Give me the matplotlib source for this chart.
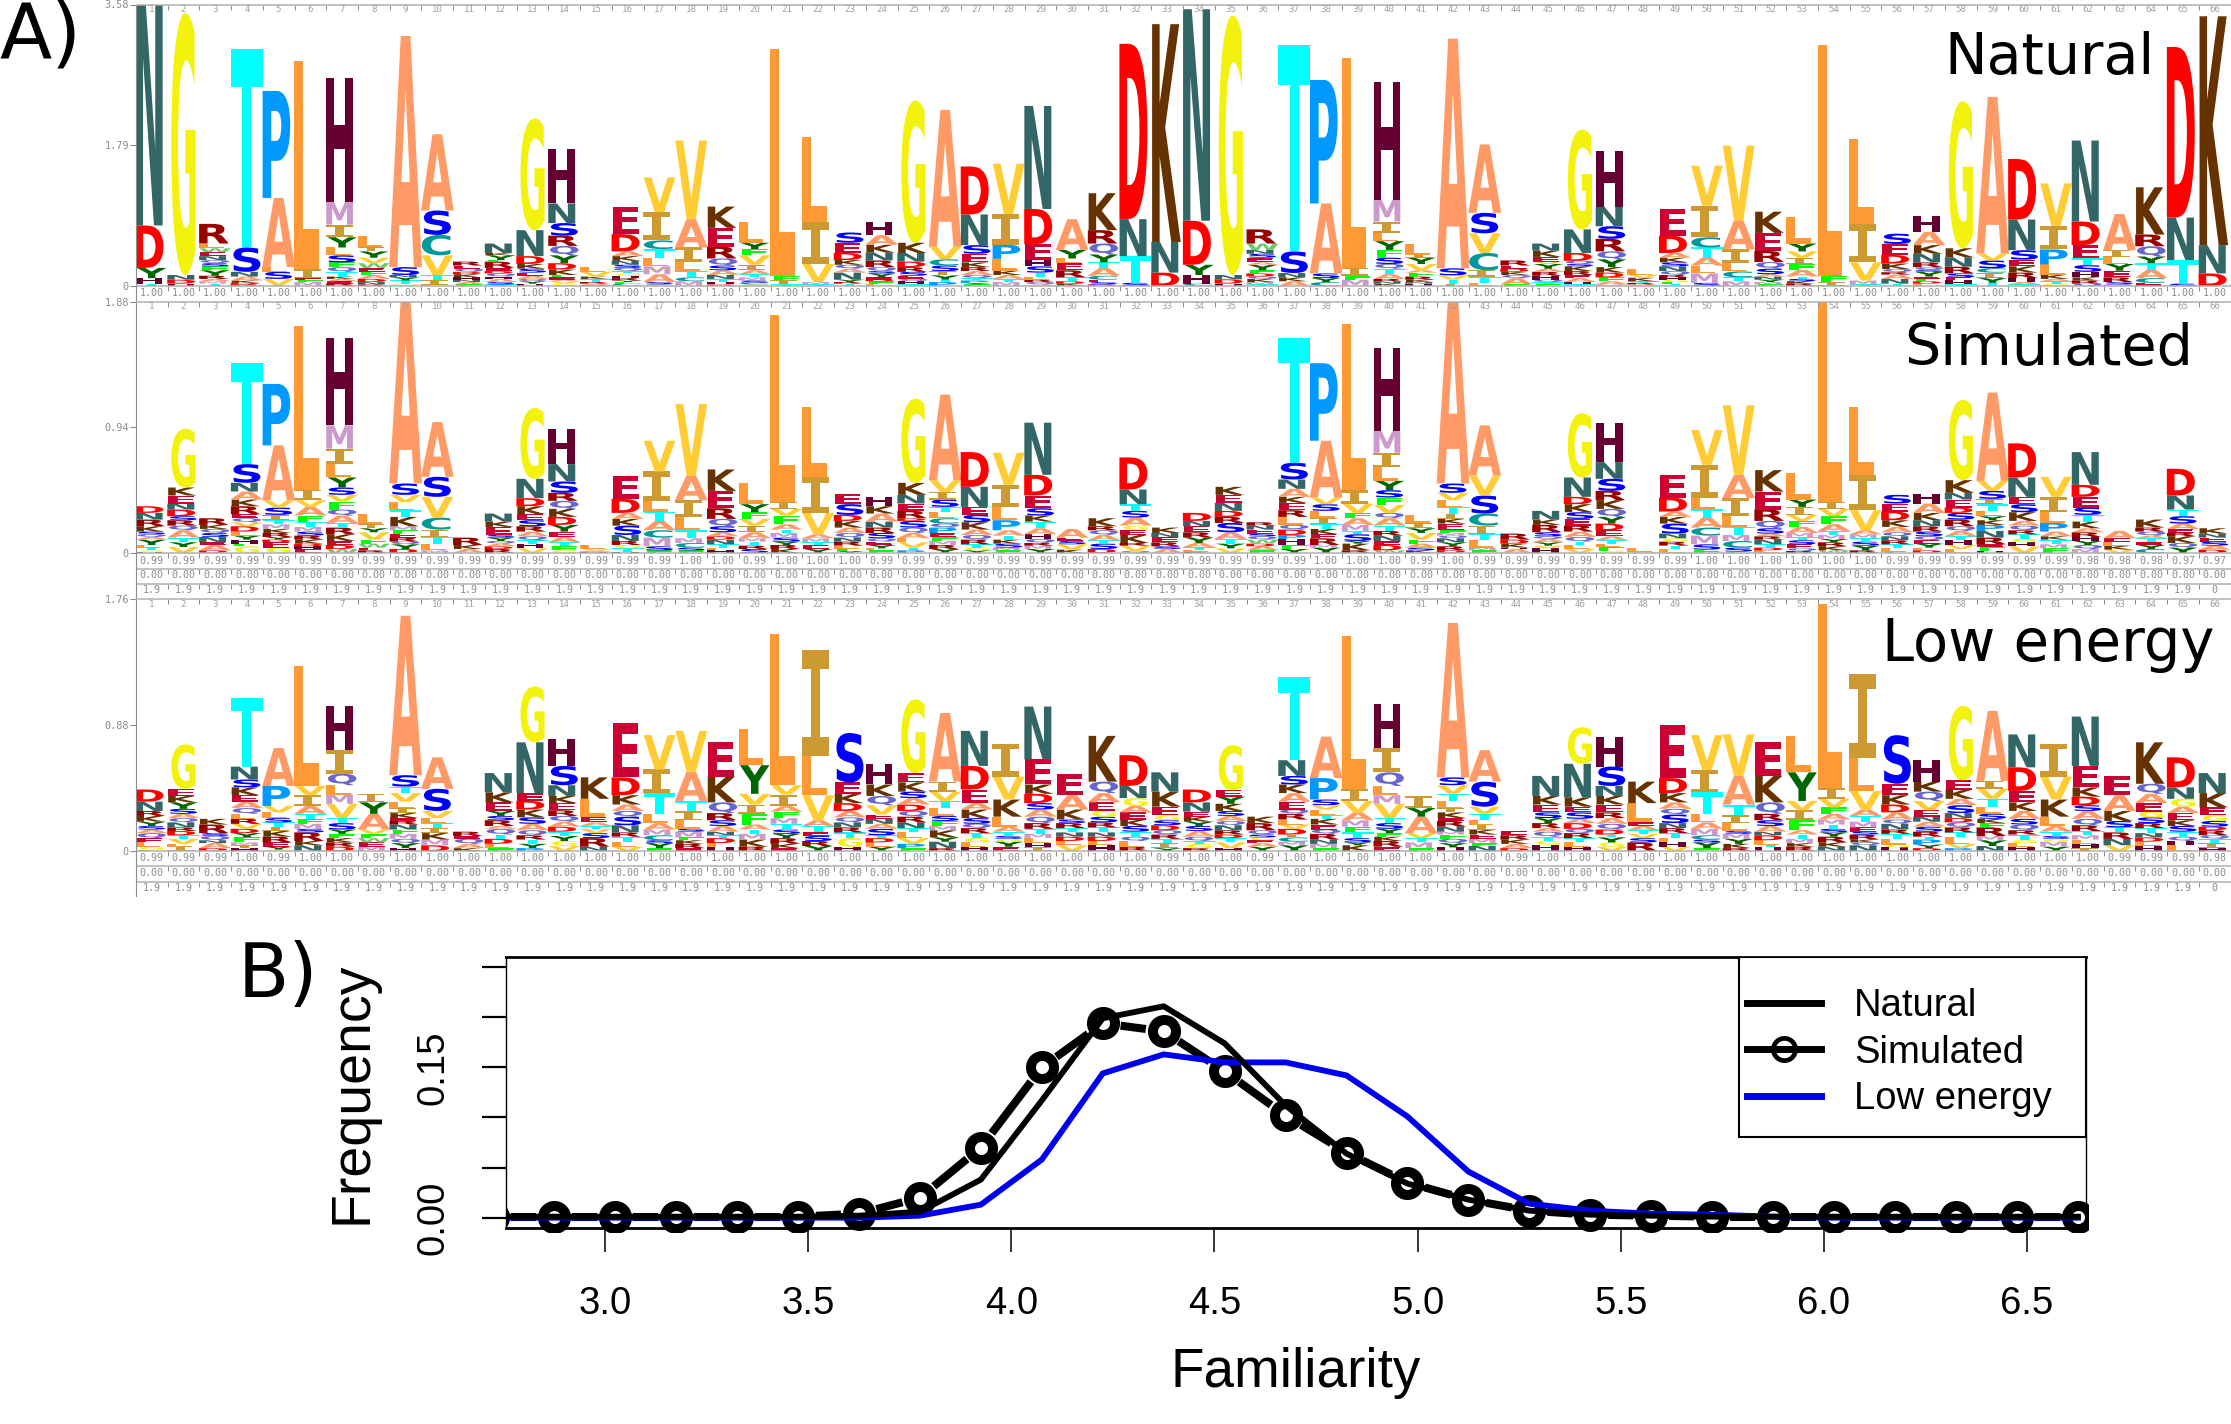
import numpy as np
import matplotlib
matplotlib.use("Agg")
import matplotlib.pyplot as plt
from matplotlib.collections import LineCollection
from matplotlib.font_manager import FontProperties
from matplotlib.lines import Line2D
from matplotlib.patches import PathPatch, Rectangle
from matplotlib.textpath import TextPath
from matplotlib.transforms import Affine2D, Bbox

# each string is one logo column, letters listed top to bottom with height in bits
natural_cols = [
    "N3.1 D.54 Y.13 H.07 T.03", "G3.33 N.06 D.05 H.03", "R.25 L.06 W.05 E.05 N.05 Q.04 S.04 F.05 Y.07 R.04 A.03 M.03 T.03",
    "T2.53 S.31 N.06 A.05 K.03 D.02 R.02", "P1.36 A.88 L.06 S.09 V.08 T.01", "L2.65 I.11 E.03 F.02 M.05",
    "H1.58 M.29 I.16 Y.13 L.1 S.09 F.06 Q.06 T.06 K.03 A.03 E.03 R.03", "L.14 I.05 Y.08 V.07 W.06 E.05 F.04 A.05 D.04 N.03 R.02",
    "A2.94 S.1 N.03 Y.04 T.05 V.02", "A.97 S.31 C.26 V.25 T.06 I.07 L.01", "R.05 E.04 Q.04 D.03 K.04 H.03 N.03 A.03 F.02",
    "N.12 K.03 Y.06 F.02 R.08 E.04 D.03 Q.04 H.03 A.04 S.03 T.02", "G1.42 N.33 D.1 K.06 S.05 E.04 A.04 Q.03 Y.03 H.03",
    "H.69 N.25 S.16 R.13 Q.12 Y.1 D.08 K.07 F.03 E.03 A.02 V.03 G.03", "L.06 V.06 K.03 T.04 R.02 A.02 D.01",
    "E.35 D.22 A.06 K.06 N.05 S.04 Q.04 T.03 G.03 H.03 R.03 Y.02 F.02 C.02 M.01", "V.44 I.36 C.11 T.11 L.11 M.1 A.1 S.03 G.02",
    "V1.0 A.36 I.18 L.12 T.08 C.05 M.06", "K.27 E.24 R.15 Q.09 S.06 A.06 N.05 T.04 H.03 D.02", "L.27 Y.08 F.08 V.12 I.07 A.05 T.04 M.04 S.03 C.02 G.02",
    "L2.89 F.055 I.05 T.02", "L1.09 I.53 V.23 M.03 T.02", "S.13 E.13 D.09 K.06 Q.05 A.05 N.09 Y.03 R.02 T.03",
    "H.17 A.12 K.1 N.1 R.085 Q.05 S.03 Y.05 E.03 D.02 F.03 L.03", "G1.81 K.13 N.11 D.07 R.06 S.05 E.04 Q.03 H.04 T.02",
    "A1.74 V.16 C.08 S.07 I.055 Y.055 T.03 P.05", "D.61 N.39 S.11 E.11 K.06 R.05 A.05 Q.04 T.03 P.03 Y.02 F.02",
    "V.64 I.39 P.18 L.15 K.055 A.05 T.04 M.05", "N1.31 D.45 E.2 H.08 S.08 T.05 L.04 R.03 Q.03 A.02",
    "A.39 Y.11 L.06 E.09 R.09 T.05 D.03 K.03", "K.47 R.17 Q.14 Y.1 T.07 A.1 C.05 E.03 S.03 D.02", "D2.23 N.47 T.34 S.04",
    "K2.77 N.39 D.17", "N2.69 D.56 Y.13 H.11 C.03", "G3.3 N.055 D.055 H.03",
    "R.18 W.08 N.05 S.05 E.06 A.03 Y.07 F.04 D.04 Q.03 K.04 M.03 T.02", "T2.63 S.275 N.055 K.05 A.06", "P1.57 A.89 S.06 Y.05 C.05",
    "L2.67 I.1 F.05 M.08", "H1.49 M.28 I.15 L.1 Y.11 F.1 S.08 Q.06 T.07 A.06 R.03 N.03 K.03", "L.13 I.04 Y.08 V.08 A.03 F.05 R.04 K.03 N.02 H.03",
    "A2.92 S.09 V.055 T.05 I.03", "A.87 S.26 V.25 C.22 I.08 T.08 L.04", "R.065 E.04 D.04 K.04 Q.04 A.08 F.02",
    "N.09 K.08 E.06 V.03 Y.06 A.04 R.05 H.05 Q.03 T.03 F.02", "G1.27 N.3 D.1 Q.04 S.03 K.06 R.05 E.04 A.05 H.03 T.02",
    "H.71 N.25 S.16 R.16 Q.1 Y.1 K.07 D.06 F.05 A.04 M.02", "L.07 V.04 K.045 T.02 R.02 A.02",
    "E.34 D.22 A.06 K.06 S.05 N.06 Q.05 R.03 H.03 G.03 F.02 T.03", "V.51 I.4 C.13 T.13 A.1 L.1 M.12 S.04",
    "V.95 A.37 I.17 L.11 C.075 T.05 M.06", "K.27 E.23 R.14 Q.085 S.07 A.03 N.04 Y.03 M.03 F.02",
    "L.34 Y.1 V.08 I.085 F.07 A.085 T.03 S.03 K.03 R.03", "L2.93 F.08 I.05", "L1.08 I.49 V.23 M.05 T.02",
    "S.13 E.14 D.11 K.07 Q.04 R.03 A.055 N.06 T.03", "H.2 A.17 K.11 N.11 R.06 Q.03 S.03 Y.06 E.03 F.03 D.03 L.03",
    "G1.87 K.115 N.12 R.085 S.05 E.04 H.05 T.02", "A1.99 V.09 S.1 C.055 I.07 Y.06 T.04", "D.77 N.39 S.12 E.085 K.08 R.07 H.05 A.03 T.02",
    "V.54 I.3 P.19 L.13 K.055 A.03 T.03 G.03", "N1.03 D.3 E.17 T.085 S.085 H.07 K.04 R.04 Q.03", "A.46 I.09 L.085 Y.085 E.085 R.06 S.03 M.02",
    "K.6 R.15 Q.13 Y.085 T.085 A.105 C.06 E.04", "D2.17 N.54 T.3 S.03", "K2.91 N.36 D.16",
]
simulated_cols = [
    "D.05 N.05 R.05 K.04 S.02 Q.02 A.02 Y.04 L.02 T.02 G.01 H.01",
    "G.44 K.06 E.06 N.045 D.05 S.03 R.04 Q.035 A.055 T.035 Y.035 V.045",
    "R.05 K.03 Q.03 S.03 N.04 E.02 A.04 D.02",
    "T.76 S.14 N.065 A.06 K.05 R.06 E.03 Q.03 V.03 D.04 L.03 Y.03 H.03 F.02 G.05",
    "P.46 A.41 V.055 S.055 I.04 T.03 M.035 K.03 R.03 Y.02 D.02 E.04 G.04",
    "L1.22 I.08 V.05 A.065 F.05 T.035 M.035 S.03 R.03 K.03 D.02 H.02 E.03",
    "H.65 M.175 I.115 L.1 Y.075 S.055 V.05 F.06 Q.045 A.055 T.035 R.05 K.05 E.03 D.03 W.03",
    "L.08 I.03 Y.03 V.055 F.03 W.03 E.02 R.02", "A1.38 S.085 V.055 L.06 T.05 K.07 M.03 F.025 E.03 R.03 Q.02 Y.035 D.03",
    "A.41 S.15 V.155 C.09 I.055 T.05 L.05 M.02", "R.055 K.03 A.03", "N.06 K.04 E.06 S.02 Y.025 Q.02 A.02 D.02 R.03",
    "G.53 N.145 D.06 K.06 E.045 S.045 R.04 A.035 Q.03 T.025 H.035 V.035",
    "H.26 N.13 S.085 R.06 Q.06 K.06 D.06 Y.05 E.04 A.04 T.03 F.03 G.02", "L.03 V.01 A.01 D.01",
    "E.17 D.105 A.045 K.05 S.07 N.045 R.03 G.025 T.025 H.01", "V.23 I.22 L.08 T.07 A.07 C.055 M.065 S.03 F.02",
    "V.535 A.185 I.125 L.1 T.06 M.035 C.035 S.02 F.02", "K.16 E.13 R.08 Q.055 S.045 A.03 D.025 N.035 T.025 L.02 H.02",
    "L.16 Y.06 F.05 V.05 I.05 A.045 M.025 T.03 R.025 S.03", "L1.395 I.055 V.05 F.065 A.04 T.025 M.035 S.03 Y.025 R.03 K.03",
    "L.52 I.27 V.16 A.03 M.03 T.02 E.03 Y.03",
    "E.075 S.08 D.045 K.05 A.04 Q.035 N.03 R.03 L.025 F.015 Y.015", "H.07 K.055 A.06 N.045 R.04 S.04 Q.025 E.025 Y.025 L.015 F.02",
    "G.63 K.09 N.065 E.055 R.055 D.02 S.05 Q.04 A.04 L.03 V.04 T.02 P.02",
    "A.64 V.09 I.055 S.055 T.04 L.045 C.04 Q.03 P.04 E.03 F.03 M.03 R.03 Y.03",
    "D.26 N.15 E.06 S.055 K.055 A.04 Q.035 R.035 T.025 G.02 Y.02", "V.24 I.165 L.1 P.075 A.04 T.03 K.03 S.03 M.02 F.02",
    "N.39 D.155 E.095 S.055 K.045 T.05 A.045 H.035 Q.03 R.02 M.025 Y.03", "A.065 E.025 S.025 V.04 K.025",
    "K.06 R.03 Q.035 A.04 T.025 S.04 D.03", "D.24 N.11 T.05 S.05 A.06 G.03 E.04 K.06 R.02 V.04 Q.015",
    "K.04 N.03 E.04 R.03 S.02 A.03", "D.06 N.04 E.045 R.04 Y.04 A.03 T.025 L.01 K.01",
    "K.06 E.06 N.06 D.045 R.045 S.07 A.05 T.035 Y.035 V.035", "R.025 N.03 E.03 S.02 Q.025 W.03 D.02 A.03 F.02",
    "T.93 S.125 N.07 A.06 K.045 E.055 R.05 L.06 Q.035 D.04 P.03 H.045 F.03 Y.03",
    "P.58 A.425 V.05 S.05 L.05 I.045 T.04 K.04 E.03 R.05 M.02 Y.04",
    "L1.24 I.1 V.07 F.04 A.05 M.045 T.025 S.05 Y.02 K.05 R.02",
    "H.62 M.165 I.11 L.1 Y.07 S.055 F.055 V.06 Q.04 A.055 T.04 R.035 N.04 E.03 D.04 W.02",
    "L.06 I.04 Y.035 V.05 F.03 A.03 S.02 K.02", "A1.42 S.07 V.055 L.05 T.05 I.04 K.035 E.05 F.02 M.02 Q.02 N.03 Y.03 R.03 D.02",
    "A.375 V.15 S.135 C.09 I.065 T.045 L.055 M.02 F.02", "R.045 D.03 K.03 H.01 A.03",
    "N.065 K.04 R.055 S.03 Q.02 A.025 Y.025 V.02 H.035", "G.48 N.145 D.055 K.06 S.05 E.05 R.045 A.04 Q.035 T.025 L.03 V.03",
    "H.295 N.125 S.09 R.07 K.065 Q.06 Y.05 D.05 E.045 A.03 T.03 L.02 F.03 G.015", "L.025 A.01",
    "E.17 D.105 A.04 K.05 S.075 N.035 G.025 R.03 T.025 L.03", "V.26 I.245 L.085 T.065 A.075 C.06 M.065 S.04 F.025",
    "V.52 A.175 I.13 L.085 T.06 M.045 C.05 S.03 F.01", "K.16 E.135 R.085 Q.055 S.04 A.02 R.025 N.035 T.025 D.02 L.02",
    "L.2 Y.055 I.06 V.045 F.045 A.045 M.03 T.025 S.03 E.03 Q.02 R.015", "L1.52 I.055 V.055 F.06 A.05 T.03 M.03 Y.025 R.03 K.03 W.02",
    "L.505 I.265 V.15 A.03 M.03 T.025 S.03 Y.035 R.02", "S.065 E.06 D.065 K.05 A.04 Q.03 N.03 R.03 T.025 L.03 F.01",
    "H.075 A.07 K.055 N.045 R.04 S.035 Q.03 E.025 Y.03 L.02 D.02",
    "G.6 K.095 N.05 E.06 D.04 S.05 R.05 Q.035 A.04 T.03 H.035 V.03 L.03",
    "A.66 V.075 S.06 I.04 T.05 L.04 Y.03 K.035 P.045 N.05 R.05 E.02 F.03 H.015",
    "D.255 N.145 E.055 S.06 K.065 A.035 Q.035 R.03 T.035 G.025 H.03 V.05",
    "V.15 I.115 L.08 P.065 A.035 K.025 T.035 M.03 F.035", "N.245 D.09 E.08 S.055 T.05 K.05 A.03 R.035 H.03 Y.03 Q.03 M.03",
    "A.055 E.025 L.03 K.03 V.025", "K.06 R.03 Q.03 A.02 T.03 E.02 Y.03 C.03",
    "D.2 N.105 T.05 S.055 A.04 E.03 R.025 K.05 Q.035 Y.04", "K.04 N.03 E.03 S.03 A.03 D.025",
]
lowenergy_cols = [
    "D.085 N.065 R.035 K.04 Y.03 S.025 A.025 Q.035 E.03 L.03 G.02 F.01",
    "G.31 E.05 K.045 Y.045 S.035 A.03 Q.03 N.035 R.025 D.03 T.025 V.035 L.02 I.03",
    "K.04 R.06 S.02 Q.03 N.02 A.035 D.02",
    "T.48 N.09 S.055 K.055 E.045 A.045 Q.04 L.035 R.035 V.035 D.03 Y.03 F.035 M.02 I.02 H.02",
    "A.265 P.14 V.045 L.04 S.03 T.03 I.03 K.04 R.04 E.03 Y.02 G.01",
    "L.84 V.065 I.075 A.055 T.035 F.035 M.035 S.025 R.06 K.03 N.04",
    "H.31 I.165 Q.08 L.065 M.065 V.1 T.035 S.045 Y.03 F.03 K.03 R.03 D.03", "I.06 Y.08 A.11 V.03 F.03 W.03 E.03 M.03",
    "A1.115 S.08 T.045 V.06 L.045 I.035 K.035 E.02 R.025 N.035 F.03 M.035 Q.03 Y.035 H.02",
    "A.22 S.155 V.05 L.035 T.035 I.035 K.045 M.04 D.04", "R.03 E.02 Q.035 A.03 K.02",
    "N.135 K.07 E.06 Y.035 S.03 R.04 A.02 Q.04 T.03 D.035 L.03 F.02",
    "G.39 N.355 E.055 D.06 K.055 S.045 A.045 Q.035 R.03 T.03 Y.03 P.02",
    "H.19 S.135 N.075 K.05 E.05 R.04 Q.04 A.035 D.035 T.03 Y.035 G.035 V.035", "K.15 L.125 E.04 A.025 T.02 V.03 S.035 R.06 N.03",
    "E.38 D.125 K.065 A.045 Q.04 S.06 N.05 R.03 T.04 L.03 V.03", "V.24 I.165 T.145 L.065 A.045 M.04 C.035 S.02 Y.035 F.02",
    "V.285 A.205 T.07 I.065 L.06 S.02 M.04 F.02 K.025 R.03 E.02", "E.24 K.18 Q.075 R.05 S.04 A.04 N.025 T.02 D.035 L.03 H.025",
    "L.25 Y.2 V.075 I.065 F.075 A.035 T.03 M.04 K.05 R.03", "L1.055 V.065 I.08 A.04 F.045 M.04 T.04 S.03 Y.03 R.04 K.03 E.02",
    "I.74 L.275 V.175 A.04 T.04 E.03 S.035 R.035 Y.035",
    "S.345 E.08 K.065 D.055 A.045 Q.035 N.035 R.035 T.04 G.06 H.03", "H.14 K.08 Q.065 V.065 E.03 N.035 A.035 S.045 T.02 D.03 L.03 Y.03",
    "G.515 E.065 K.065 S.045 A.045 D.045 Q.04 R.04 N.04 T.025 L.045 V.04 P.03 F.02",
    "A.48 I.07 V.065 T.05 L.055 S.035 F.035 M.03 K.05 Y.03 N.045 R.02", "N.245 D.165 E.095 A.045 K.06 S.04 Q.03 R.035 T.035 G.03 L.03 H.03",
    "I.23 V.16 K.12 L.07 A.035 T.03 S.02 G.02 Y.035 E.03", "N.37 E.175 K.065 D.065 S.045 A.05 Q.045 R.04 T.035 M.03 L.035 H.03 I.025",
    "E.145 A.1 K.07 S.025 R.035 T.03 N.03 D.03 L.03 V.04", "K.32 Q.08 A.065 E.06 G.04 S.04 R.035 T.035 N.03 D.03 L.03 H.04",
    "D.215 N.085 G.055 A.045 E.05 K.045 S.04 T.035 Q.03 L.04 R.03", "N.135 K.105 E.06 G.035 S.035 D.035 Q.03 R.03 T.03 I.035 Y.02",
    "D.09 N.065 E.035 K.035 Y.03 S.035 A.04 Q.03 T.02 G.03 R.02", "G.315 E.045 Y.05 K.05 S.035 A.035 Q.03 N.035 R.03 D.025 T.03 V.04 H.02",
    "K.045 R.05 Q.03 S.02 G.02 E.02 A.025 Y.03", "T.585 N.11 S.06 K.06 A.06 E.055 Q.03 R.04 L.035 V.03 D.04 I.02 C.03 M.025 Y.04",
    "A.29 P.15 S.04 V.03 L.04 T.025 K.04 E.035 Q.03 R.04 N.03 M.03 F.02", "L1.07 I.085 V.08 A.055 M.045 F.04 T.04 S.03 Y.02 K.04",
    "H.31 I.17 Q.095 L.065 M.06 V.1 T.035 S.04 Y.03 F.025 K.03 R.04 E.03", "I.085 Y.06 A.115 V.035 T.03 M.04 F.02",
    "A1.08 S.055 V.06 T.05 L.05 I.03 K.04 E.02 R.04 N.035 M.02 F.03 Q.03 Y.03 H.025", "A.22 S.175 V.05 T.04 L.035 I.035 K.035 E.03 M.03 F.02 N.035",
    "E.03 R.03 K.03 A.03 D.02",
    "N.14 K.06 E.055 S.04 Y.035 R.035 A.025 Q.035 T.03 G.025 H.045", "G.255 N.235 K.065 E.04 S.045 A.03 D.04 Q.03 R.035 T.03 L.03 H.03",
    "H.21 S.135 N.07 K.06 E.055 R.04 A.04 Q.04 D.035 T.02 Y.035 G.03 V.03", "K.15 L.13 E.03 A.03 T.025 V.03 S.03 R.06",
    "E.37 D.105 K.065 A.045 Q.04 S.06 N.035 R.035 T.035 L.03 H.03 V.03", "V.245 I.155 T.15 L.06 A.045 M.045 C.03 S.02 Y.04 F.02",
    "V.29 A.2 T.075 I.055 L.055 S.02 M.035 Y.035 K.03 R.02", "E.235 K.185 Q.08 R.045 S.04 A.04 N.025 D.035 L.03 T.02 H.025",
    "L.255 Y.2 V.065 I.065 F.075 A.03 T.03 M.03 K.025 R.03", "L1.285 I.075 V.06 F.045 A.04 M.035 T.03 S.025 Y.03 R.04 K.03 N.03",
    "I.585 L.23 V.13 A.045 T.04 M.04 E.03 S.02 R.035 K.02 Q.02 N.04", "S.34 E.08 K.065 D.055 A.05 Q.03 N.04 R.03 T.035 L.04 G.02 H.025",
    "H.15 K.07 Q.065 V.065 E.045 N.035 A.035 S.035 R.035 T.02 P.035 Y.025 D.02", "G.52 E.065 K.065 A.045 S.055 N.035 D.03 Q.035 R.035 T.035 L.045 V.03 P.02",
    "A.49 I.055 V.07 T.055 L.05 S.035 K.03 F.03 R.06 M.03 Y.04 N.035", "N.23 D.165 E.08 K.06 A.055 S.04 Q.04 R.03 T.04 G.02 L.025 H.03",
    "I.23 V.16 K.12 L.065 A.04 T.03 S.02 G.02 M.035 Y.03", "N.345 E.15 K.065 D.06 S.04 A.055 Q.045 R.04 T.03 M.03 L.03 H.03 I.02",
    "E.135 A.11 K.07 S.045 T.035 R.045 N.045 V.04", "K.29 Q.07 A.065 E.06 G.04 S.04 R.035 T.035 N.03 D.03 L.03 H.035",
    "D.21 N.08 G.055 A.045 E.05 K.04 S.04 T.035 Q.03 H.03 L.04", "N.14 K.1 E.055 G.04 S.04 D.025 R.035 Q.025 T.03 I.035 H.02",
]

# values printed in the rows under each logo
natural_occupancy = [1.00] * 66
simulated_occupancy = [
    .99, .99, .99, .99, .99, .99, .99, .99, .99, .99, .99, .99, .99, .99, .99, .99, .99, 1.00, 1.00, .99, 1.00, 1.00,
    1.00, .99, .99, .99, .99, .99, .99, .99, .99, .99, .99, .99, .99, .99, .99, 1.00, 1.00, 1.00, .99, 1.00, .99, .99,
    .99, .99, .99, .99, .99, 1.00, 1.00, 1.00, 1.00, 1.00, 1.00, .99, .99, .99, .99, .99, .99, .98, .98, .98, .97, .97,
]
lowenergy_occupancy = [
    .99, .99, .99, 1.00, .99, 1.00, 1.00, .99, 1.00, 1.00, 1.00, 1.00, 1.00, 1.00, 1.00, 1.00, 1.00, 1.00, 1.00, 1.00, 1.00, 1.00,
    1.00, 1.00, 1.00, 1.00, 1.00, 1.00, 1.00, 1.00, 1.00, 1.00, .99, 1.00, 1.00, .99, 1.00, 1.00, 1.00, 1.00, 1.00, 1.00, 1.00, .99,
    1.00, 1.00, 1.00, 1.00, 1.00, 1.00, 1.00, 1.00, 1.00, 1.00, 1.00, 1.00, 1.00, 1.00, 1.00, 1.00, 1.00, 1.00, .99, .99, .99, .98,
]
zero_row = ["0.00"] * 66
length_row = ["1.9"] * 65 + ["0"]

familiarity = [2.725, 2.875, 3.025, 3.175, 3.325, 3.475, 3.625, 3.775, 3.925, 4.075, 4.225, 4.375, 4.525, 4.675,
               4.825, 4.975, 5.125, 5.275, 5.425, 5.575, 5.725, 5.875, 6.025, 6.175, 6.325, 6.475, 6.625]
freq_natural = [.001, .001, .001, .001, .001, .001, .002, .006, .038, .117, .199, .211, .174, .112,
                .064, .034, .018, .007, .003, .002, .001, .001, .001, .001, .001, .001, .001]
freq_simulated = [.001, .001, .001, .001, .001, .001, .004, .020, .070, .150, .194, .186, .146, .102,
                  .065, .035, .018, .007, .003, .002, .001, .001, .001, .001, .001, .001, .001]
freq_lowenergy = [0, 0, 0, 0, 0, 0, 0, .002, .013, .058, .144, .163, .155, .155,
                  .142, .101, .046, .014, .007, .004, .003, .001, 0, 0, 0, 0, 0]

residue_colors = {
    "A": "#ff9966", "C": "#009999", "D": "#ff0000", "E": "#cc0033", "F": "#00ff00", "G": "#f2f20c", "H": "#660033",
    "I": "#cc9933", "K": "#663300", "L": "#ff9933", "M": "#cc99cc", "N": "#336666", "P": "#0099ff", "Q": "#6666cc",
    "R": "#990000", "S": "#0000ff", "T": "#00ffff", "V": "#ffcc33", "W": "#66cc66", "Y": "#006600",
}
# glyph width and sideways shift, as fractions of a column
glyph_width = {"A": 1.03, "C": .9, "D": .88, "E": .82, "F": .8, "G": .76, "H": .84, "I": .85, "K": .9, "L": .78, "M": .84,
               "N": .85, "P": .87, "Q": .9, "R": .93, "S": .85, "T": 1.0, "V": 1.0, "W": 1.0, "Y": .93}
glyph_shift = {"D": -.07, "E": -.07, "H": -.08, "I": -.09, "K": -.03, "L": -.12, "M": -.08, "N": -.08, "P": -.07, "R": -.04, "C": -.04}

W, H = 2231, 1424
GREY = "#8c8c8c"
LINE = "#b0b0b0"
COL_PX = 31.74
LOGO_LEFT = 135.8

plt.rcParams["font.family"] = ["DejaVu Sans"]
fig = plt.figure(figsize=(W / 100, H / 100), dpi=100, facecolor="white")

# overlay in pixel units for rules, numbering and panel tags
page = fig.add_axes([0, 0, 1, 1], zorder=5)
page.set_xlim(0, W)
page.set_ylim(H, 0)
page.axis("off")
page.patch.set_alpha(0)

bold = FontProperties(family="DejaVu Sans", weight="bold")
bold_mono = FontProperties(family="DejaVu Sans Mono", weight="bold")  # its I has serifs
glyphs = {}
for letter in residue_colors:
    tp = TextPath((0, 0), letter, size=1, prop=bold_mono if letter == "I" else bold)
    glyphs[letter] = (tp, tp.get_extents())


def draw_letter(ax, letter, col, bottom, height):
    path, box = glyphs[letter]
    w = glyph_width[letter]
    cx = col + 0.5 + glyph_shift.get(letter, 0)
    tr = (Affine2D().translate(-box.x0, -box.y0).scale(w / box.width, height / box.height)
          .translate(cx - w / 2, bottom))
    ax.add_patch(PathPatch(path, transform=tr + ax.transData, facecolor=residue_colors[letter], edgecolor="none", lw=0))


def draw_logo(columns, ymax, ticks, top_y, base_y):
    ax = fig.add_axes([LOGO_LEFT / W, 1 - base_y / H, 66 * COL_PX / W, (base_y - top_y) / H])
    ax.set_xlim(0, 66)
    ax.set_ylim(0, ymax)
    for c, text in enumerate(columns):
        stack = [(s[0], float(s[1:])) for s in text.split()]
        y = 0
        for letter, h in reversed(stack):
            draw_letter(ax, letter, c, y, h)
            y += h
    for side in ["top", "right", "bottom"]:
        ax.spines[side].set_visible(False)
    ax.spines["left"].set_color(GREY)
    ax.set_xticks([])
    ax.set_yticks(ticks[0], ticks[1])
    ax.tick_params(axis="y", length=4, width=0.8, color=GREY, labelcolor=GREY, pad=1, labelsize=7.4)
    for lab in ax.get_yticklabels():
        lab.set_family("DejaVu Sans Mono")
    return ax


def draw_rows(top_y, base_y, number_y, row_ys, rule_ys, spine_end, rows):
    edges = LOGO_LEFT + COL_PX * np.arange(67)
    centers = edges[:-1] + COL_PX / 2
    segs = []
    for y in [top_y, base_y] + rule_ys:
        segs += [[(x, y), (x, y + 5)] for x in edges]
    page.add_collection(LineCollection(segs, colors=GREY, linewidths=0.7))
    page.add_collection(LineCollection([[(LOGO_LEFT, y), (W, y)] for y in [top_y, base_y] + rule_ys], colors=LINE, linewidths=1.1))
    page.plot([LOGO_LEFT, LOGO_LEFT], [base_y, spine_end], color=GREY, lw=0.8)
    for i, x in enumerate(centers):
        page.text(x, number_y, str(i + 1), ha="center", va="center", color="#a0a0a0", fontsize=6.6, family="DejaVu Sans Mono")
        for y, row in zip(row_ys, rows):
            page.text(x, y, row[i], ha="center", va="center", color=GREY, fontsize=7.2, family="DejaVu Sans Mono")


draw_logo(natural_cols, 3.58, ([0, 1.79, 3.58], ["0", "1.79", "3.58"]), 4.5, 286)
draw_logo(simulated_cols, 1.88, ([0, 0.94, 1.88], ["0", "0.94", "1.88"]), 301.7, 553)
draw_logo(lowenergy_cols, 1.76, ([0, 0.88, 1.76], ["0", "0.88", "1.76"]), 599.3, 851)

draw_rows(4.5, 286, 9.3, [292.5], [], 302, [["%.2f" % v for v in natural_occupancy]])
draw_rows(301.7, 553, 306.7, [560.7, 575, 590], [569, 584], 599.3,
          [["%.2f" % v for v in simulated_occupancy], zero_row, length_row])
draw_rows(599.3, 851, 604.3, [858, 873, 887.7], [866.3, 881.7], 896,
          [["%.2f" % v for v in lowenergy_occupancy], zero_row, length_row])

page.text(1944, 74, "Natural", fontsize=41, color="black", va="baseline")
page.text(1904, 365, "Simulated", fontsize=41.2, color="black", va="baseline")
page.text(1882, 660.7, "Low energy", fontsize=41.5, color="black", va="baseline")
page.text(-1, 58, "A)", fontsize=55, color="black", va="baseline")
page.text(238, 996.7, "B)", fontsize=54, color="black", va="baseline")

# familiarity histogram
AX_L, AX_R, AX_T, AX_B = 506.3, 2086, 957.3, 1228.3
ax = fig.add_axes([AX_L / W, 1 - AX_B / H, (AX_R - AX_L) / W, (AX_B - AX_T) / H], zorder=6)
ax.set_xlim(2.757, 6.645)
ax.set_ylim(-0.0106, 0.2599)

helv = "Liberation Sans"
# R style type="b": segments stop short of the open circles
pts = ax.transData.transform(np.column_stack([familiarity, freq_simulated]))
gap = 18
for p, q in zip(pts[:-1], pts[1:]):
    d = q - p
    n = np.hypot(*d)
    if n > 2 * gap:
        seg = ax.transData.inverted().transform([p + d / n * gap, q - d / n * gap])
        ax.plot(seg[:, 0], seg[:, 1], color="black", lw=5.8, solid_capstyle="butt")
circles, = ax.plot(familiarity, freq_simulated, ls="none", marker="o", ms=16.6, mfc="none", mec="black", mew=7.2)
# circles may run a few pixels past the bottom of the box
circles.set_clip_box(Bbox([[AX_L, H - AX_B - 4], [AX_R + 2, H - AX_T]]))
ax.plot(familiarity, freq_lowenergy, color="#0000ee", lw=4.2, solid_joinstyle="miter")
ax.plot(familiarity, freq_natural, color="black", lw=4.2, solid_joinstyle="miter")

ax.set_xticks([3.0, 3.5, 4.0, 4.5, 5.0, 5.5, 6.0, 6.5])
ax.set_yticks([0, .05, .10, .15, .20, .25], ["0.00", "", "", "0.15", "", ""])
ax.tick_params(axis="x", length=17.3, width=1.1, pad=24, labelsize=27.5)
ax.tick_params(axis="y", length=17.3, width=1.6, pad=22, labelsize=27.5)
for lab in ax.get_xticklabels() + ax.get_yticklabels():
    lab.set_family(helv)
for lab in ax.get_yticklabels():
    lab.set_rotation(90)
    lab.set_va("center")
ax.set_xlabel("Familiarity", fontsize=39.5, family=helv, labelpad=18)
ax.set_ylabel("Frequency", fontsize=40, family=helv, labelpad=27)
ax.spines["top"].set_linewidth(2)
ax.spines["bottom"].set_linewidth(2)
ax.spines["left"].set_linewidth(1)
ax.spines["right"].set_linewidth(1)

# legend box is its own rectangle because the padding differs per side
ax.add_patch(Rectangle(((1738.5 - AX_L) / (AX_R - AX_L), (AX_B - 1137) / (AX_B - AX_T)),
                       (AX_R - 1738.5) / (AX_R - AX_L), (1137 - AX_T) / (AX_B - AX_T),
                       transform=ax.transAxes, facecolor="white", edgecolor="black", lw=1.5, zorder=4))
handles = [
    Line2D([], [], color="black", lw=5),
    Line2D([], [], color="black", lw=5, marker="o", ms=16, mfc="none", mec="black", mew=3.4),
    Line2D([], [], color="#0000ee", lw=5),
]
leg = ax.legend(handles, ["Natural", "Simulated", "Low energy"], loc="upper left",
                bbox_to_anchor=((1747 - AX_L) / (AX_R - AX_L), 1 - (988 - AX_T) / (AX_B - AX_T)),
                borderaxespad=0, borderpad=0, frameon=False, handlelength=1.95, handletextpad=0.85,
                labelspacing=0.28, prop=FontProperties(family=helv, size=27.5))
leg.set_zorder(5)

fig.savefig("out.png", dpi=100)
